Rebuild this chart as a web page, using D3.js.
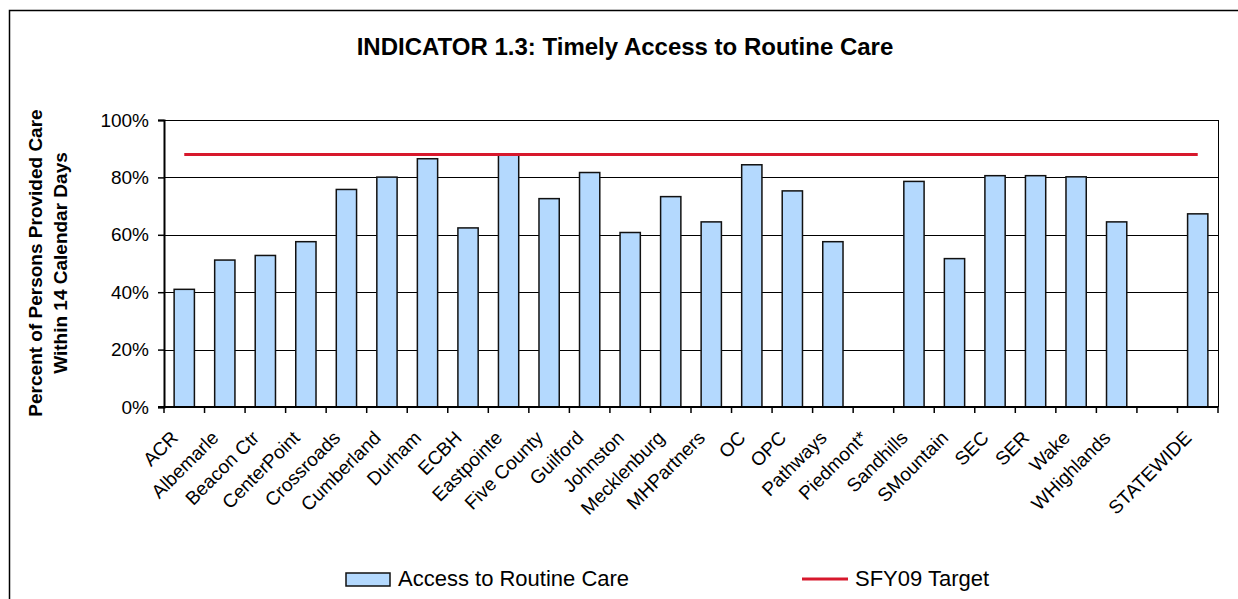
<!DOCTYPE html>
<html>
<head>
<meta charset="utf-8">
<script src="https://cdn.jsdelivr.net/npm/d3@7"></script>
<style>
  body { margin: 0; background: #fff; }
  svg text { font-family: "Liberation Sans", Arial, sans-serif; fill: #000; }
</style>
</head>
<body>
<svg id="chart" width="1238" height="599"></svg>
<script>
// categories along the x axis (blank slot before STATEWIDE is kept on purpose)
const regions = [
  "ACR", "Albemarle", "Beacon Ctr", "CenterPoint", "Crossroads", "Cumberland",
  "Durham", "ECBH", "Eastpointe", "Five County", "Guilford", "Johnston",
  "Mecklenburg", "MHPartners", "OC", "OPC", "Pathways", "Piedmont*",
  "Sandhills", "SMountain", "SEC", "SER", "Wake", "WHighlands", "", "STATEWIDE"
];

// percent of persons provided care within 14 days (null = no bar)
const accessValues = [
  41, 51.2, 52.8, 57.6, 75.8, 80.1,
  86.5, 62.4, 88, 72.6, 81.7, 60.8,
  73.3, 64.5, 84.4, 75.3, 57.6, null,
  78.6, 51.7, 80.6, 80.6, 80.2, 64.5, null, 67.3
];

const targetValue = 88;
const yTicks = [0, 20, 40, 60, 80, 100];

const svg = d3.select("#chart");

// outer chart frame
svg.append("rect")
  .attr("x", 9.5)
  .attr("y", 10.5)
  .attr("width", 1240)
  .attr("height", 600)
  .attr("fill", "#fff")
  .attr("stroke", "#000")
  .attr("stroke-width", 1.5);

const plot = { left: 164, right: 1218, top: 120, bottom: 407 };

const x = d3.scaleBand()
  .domain(regions)
  .range([plot.left, plot.right])
  .paddingInner(0.5)
  .paddingOuter(0.25);

const y = d3.scaleLinear()
  .domain([0, 100])
  .range([plot.bottom, plot.top]);

const step = x.step();

// gridlines
svg.append("g")
  .selectAll("line")
  .data(yTicks.filter((d) => d > 0))
  .enter()
  .append("line")
  .attr("x1", plot.left)
  .attr("x2", plot.right)
  .attr("y1", (d) => Math.round(y(d)) + 0.5)
  .attr("y2", (d) => Math.round(y(d)) + 0.5)
  .attr("stroke", "#000")
  .attr("stroke-width", 1);

// right border of the plot area
svg.append("line")
  .attr("x1", plot.right + 0.5)
  .attr("x2", plot.right + 0.5)
  .attr("y1", plot.top)
  .attr("y2", plot.bottom)
  .attr("stroke", "#000");

// bars
svg.append("g")
  .selectAll("rect")
  .data(regions.map((r, i) => ({ region: r, value: accessValues[i] })).filter((d) => d.value != null))
  .enter()
  .append("rect")
  .attr("x", (d) => x(d.region))
  .attr("y", (d) => y(d.value))
  .attr("width", x.bandwidth())
  .attr("height", (d) => y(0) - y(d.value))
  .attr("fill", "#b4d9fe")
  .attr("stroke", "#111")
  .attr("stroke-width", 1.5);

// y axis
const yAxis = d3.axisLeft(y)
  .tickValues(yTicks)
  .tickSize(6)
  .tickPadding(9)
  .tickFormat((d) => d + "%");

const yG = svg.append("g")
  .attr("transform", `translate(${plot.left},0)`)
  .call(yAxis);
yG.select(".domain").attr("stroke", "#000").attr("stroke-width", 2);
yG.selectAll(".tick line").attr("stroke", "#000").attr("stroke-width", 1.5);
yG.selectAll(".tick text")
  .attr("font-size", 19)
  .attr("font-family", "Liberation Sans, Arial, sans-serif")
  .attr("fill", "#000");

// x axis baseline with ticks at category boundaries
const xG = svg.append("g");
xG.append("line")
  .attr("x1", plot.left - 6)
  .attr("x2", plot.right)
  .attr("y1", plot.bottom)
  .attr("y2", plot.bottom)
  .attr("stroke", "#000")
  .attr("stroke-width", 2);

const boundaries = regions.map((r) => x(r) - step * 0.25).concat([plot.right]);
xG.selectAll(".xtick")
  .data(boundaries)
  .enter()
  .append("line")
  .attr("class", "xtick")
  .attr("x1", (d) => d)
  .attr("x2", (d) => d)
  .attr("y1", plot.bottom)
  .attr("y2", plot.bottom + 6)
  .attr("stroke", "#000")
  .attr("stroke-width", 1.5);

xG.selectAll(".xlabel")
  .data(regions)
  .enter()
  .append("text")
  .attr("class", "xlabel")
  .attr("text-anchor", "end")
  .attr("font-size", 19)
  .attr("transform", (d) => {
    const cx = x(d) + x.bandwidth() / 2 - 5;
    return `translate(${cx},${plot.bottom + 32}) rotate(-45)`;
  })
  .text((d) => d);

// target line, from first to last category center
const line = d3.line()
  .x((d) => x(d) + x.bandwidth() / 2)
  .y(() => y(targetValue));

svg.append("path")
  .datum([regions[0], regions[regions.length - 1]])
  .attr("d", line)
  .attr("fill", "none")
  .attr("stroke", "#d7182c")
  .attr("stroke-width", 3);

// title
svg.append("text")
  .attr("x", 625)
  .attr("y", 55)
  .attr("text-anchor", "middle")
  .attr("font-size", 24)
  .attr("font-weight", "bold")
  .text("INDICATOR 1.3: Timely Access to Routine Care");

// y axis title
const yTitle = svg.append("text")
  .attr("transform", "translate(42,263) rotate(-90)")
  .attr("text-anchor", "middle")
  .attr("font-size", 19)
  .attr("font-weight", "bold");
yTitle.append("tspan").attr("x", 0).attr("dy", 0).text("Percent of Persons Provided Care");
yTitle.append("tspan").attr("x", 0).attr("dy", 25).text("Within 14 Calendar Days");

// legend
const legend = svg.append("g");
legend.append("rect")
  .attr("x", 346)
  .attr("y", 573)
  .attr("width", 44)
  .attr("height", 13)
  .attr("fill", "#b4d9fe")
  .attr("stroke", "#111")
  .attr("stroke-width", 1.5);
legend.append("text")
  .attr("x", 398)
  .attr("y", 586)
  .attr("font-size", 22)
  .text("Access to Routine Care");
legend.append("line")
  .attr("x1", 802)
  .attr("x2", 848)
  .attr("y1", 579)
  .attr("y2", 579)
  .attr("stroke", "#d7182c")
  .attr("stroke-width", 3);
legend.append("text")
  .attr("x", 855)
  .attr("y", 586)
  .attr("font-size", 22)
  .text("SFY09 Target");
</script>
</body>
</html>
